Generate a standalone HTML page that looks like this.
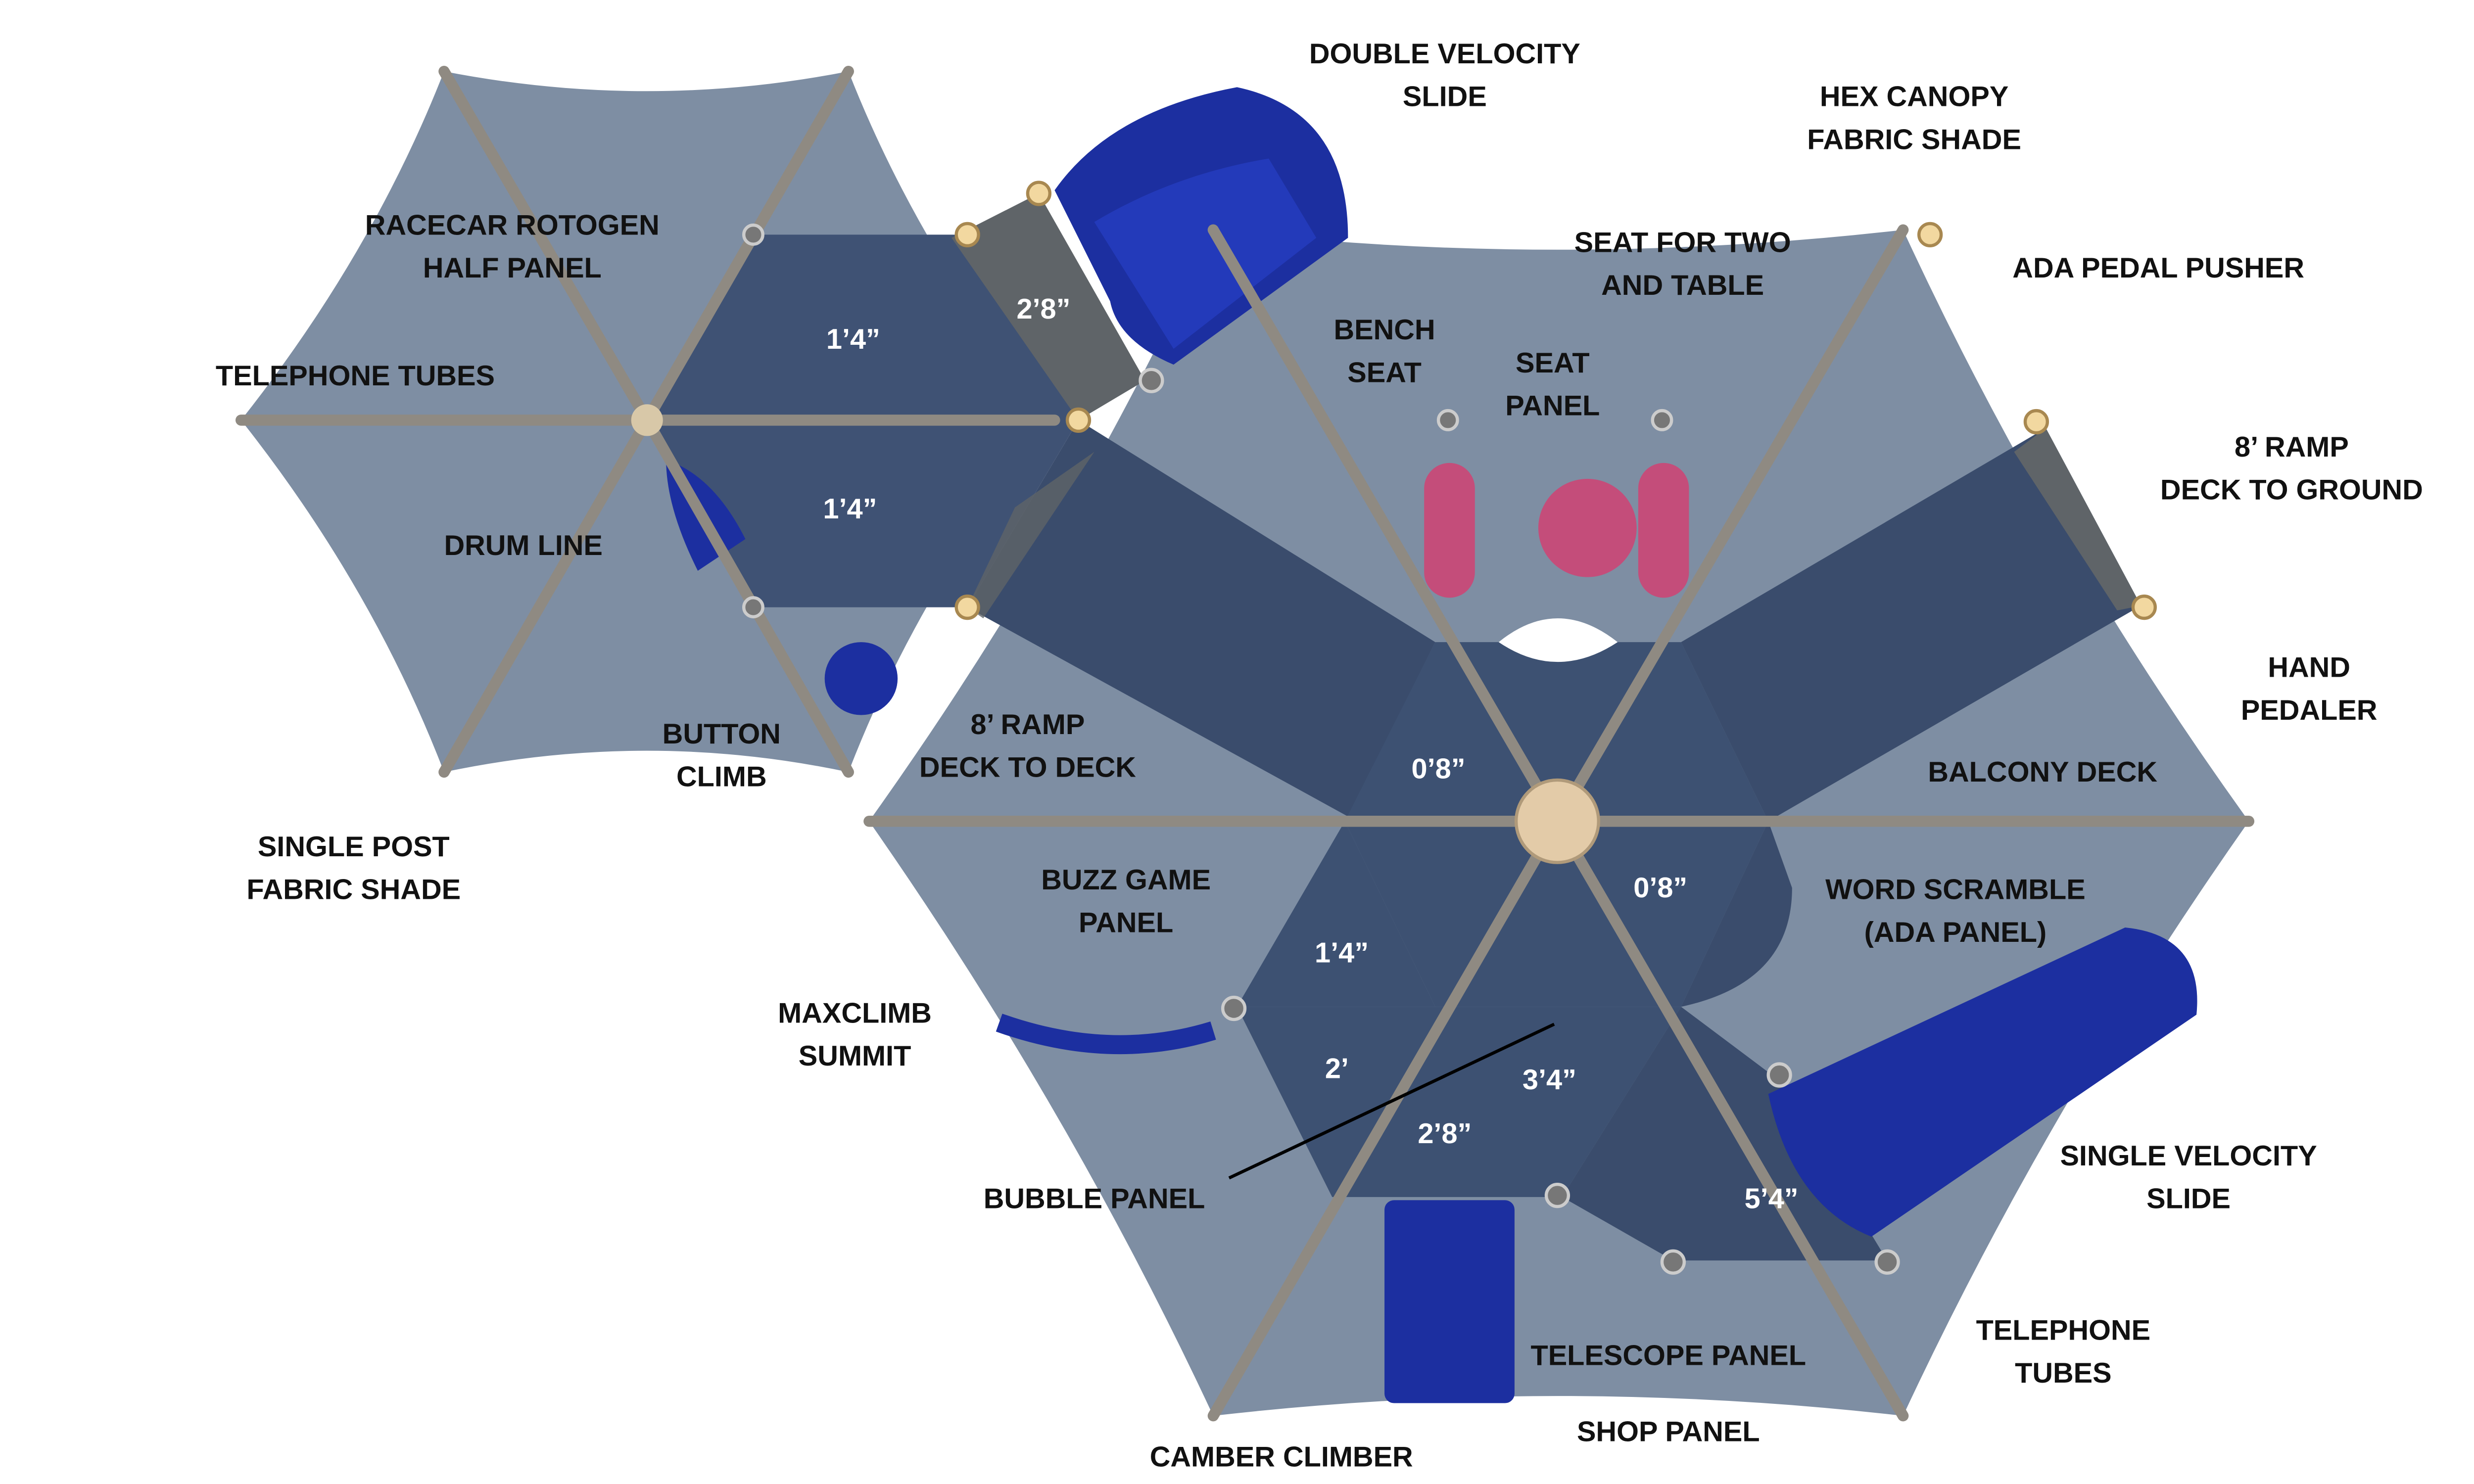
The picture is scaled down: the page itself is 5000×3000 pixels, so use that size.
<!DOCTYPE html>
<html><head><meta charset="utf-8"><style>
html,body{margin:0;padding:0;background:#fff;}
svg{display:block;width:5000px;height:3000px;}
text{font-family:"Liberation Sans",Arial,sans-serif;font-weight:bold;}
.l{fill:#111;font-size:18px;text-anchor:middle;}
.d{fill:#fff;font-size:18px;text-anchor:middle;}
</style></head><body>
<svg viewBox="0 0 1560 936" xmlns="http://www.w3.org/2000/svg">
<rect width="1560" height="936" fill="#fff"/>
<path d="M280,45 Q408,70 535,45 Q580,160 665,265 Q580,370 535,487 Q408,460 280,487 Q235,370 152,265 Q235,160 280,45Z" fill="#7e8ea3"/>
<path d="M765,145 Q982,170 1200,145 Q1290,340 1418,518 Q1290,700 1200,893 Q982,868 765,893 Q675,700 548,518 Q675,340 765,145Z" fill="#7e8ea3"/>
<path d="M475,148 L610,148 L680,265 L610,383 L475,383 L408,265Z" fill="#3f5274"/>
<path d="M600,150 L655,122 L722,240 L680,265Z" fill="#5f6468"/>
<path d="M665,120 Q700,70 780,55 Q850,70 850,150 L740,230 Q705,215 700,190Z" fill="#1c2fa0"/>
<path d="M690,140 Q740,110 800,100 L830,150 L740,220Z" fill="#233aba"/>
<path d="M680,265 L610,383 L850,515 L905,405Z" fill="#3a4c6c"/>
<path d="M640,320 L610,383 L620,390 L690,285Z" fill="#5f6468" opacity=".8"/>
<path d="M905,405 L1060,405 L1115,518 L1060,635 L905,635 L848,518Z" fill="#3d5172"/>
<path d="M1060,405 L1115,518 L1350,382 L1290,270Z" fill="#3a4c6c"/>
<path d="M1270,285 L1290,270 L1350,382 L1335,385Z" fill="#5f6468"/>
<path d="M905,635 L1060,635 L985,755 L840,755 L780,635Z" fill="#3d5172"/>
<path d="M848,518 L905,635 L780,635Z" fill="#3d5172"/>
<path d="M1060,635 L1120,680 L1190,795 L1055,795 L985,755Z" fill="#3a4c6c"/>
<path d="M1115,518 L1130,560 Q1130,620 1060,635Z" fill="#3a4c6c"/>
<path d="M1115,690 L1340,585 Q1390,590 1385,640 L1180,780 Q1130,760 1115,690Z" fill="#1c2fa0"/>
<rect x="873" y="757" width="82" height="128" rx="6" fill="#1c2fa0"/>
<path d="M630,645 Q700,670 765,650" stroke="#1c2fa0" stroke-width="12" fill="none"/>
<rect x="898" y="292" width="32" height="85" rx="16" fill="#c44d7a"/>
<rect x="1033" y="292" width="32" height="85" rx="16" fill="#c44d7a"/>
<circle cx="1001" cy="333" r="31" fill="#c44d7a"/>
<path d="M945,405 Q982,375 1020,405 Q982,430 945,405Z" fill="#fff"/>
<circle cx="543" cy="428" r="23" fill="#1c2fa0"/>
<path d="M420,290 Q450,300 470,340 L440,360 Q420,320 420,290Z" fill="#1c2fa0"/>
<g stroke="#8f8a82" stroke-width="7" stroke-linecap="round">
<line x1="408" y1="265" x2="280" y2="45"/><line x1="408" y1="265" x2="535" y2="45"/>
<line x1="408" y1="265" x2="665" y2="265"/><line x1="408" y1="265" x2="535" y2="487"/>
<line x1="408" y1="265" x2="280" y2="487"/><line x1="408" y1="265" x2="152" y2="265"/>
<line x1="982" y1="518" x2="765" y2="145"/><line x1="982" y1="518" x2="1200" y2="145"/>
<line x1="982" y1="518" x2="1418" y2="518"/><line x1="982" y1="518" x2="1200" y2="893"/>
<line x1="982" y1="518" x2="765" y2="893"/><line x1="982" y1="518" x2="548" y2="518"/>
</g>
<circle cx="408" cy="265" r="10" fill="#d8c8a8"/>
<circle cx="982" cy="518" r="26" fill="#e3cba8" stroke="#b09a7a" stroke-width="2"/>
<g fill="#f2d8a0" stroke="#a88850" stroke-width="2">
<circle cx="610" cy="148" r="7"/><circle cx="655" cy="122" r="7"/><circle cx="680" cy="265" r="7"/>
<circle cx="610" cy="383" r="7"/><circle cx="1217" cy="148" r="7"/><circle cx="1284" cy="266" r="7"/><circle cx="1352" cy="383" r="7"/>
</g>
<g fill="#777" stroke="#ccc" stroke-width="2">
<circle cx="913" cy="265" r="6"/><circle cx="1048" cy="265" r="6"/><circle cx="726" cy="240" r="7"/>
<circle cx="778" cy="636" r="7"/><circle cx="1122" cy="678" r="7"/><circle cx="982" cy="754" r="7"/>
<circle cx="1055" cy="796" r="7"/><circle cx="1190" cy="796" r="7"/><circle cx="475" cy="148" r="6"/><circle cx="475" cy="383" r="6"/>
</g>
<line x1="775" y1="743" x2="980" y2="646" stroke="#000" stroke-width="2"/>
<g transform="translate(-5,0)">
<text class="d" x="543" y="220">1’4”</text><text class="d" x="541" y="327">1’4”</text>
<text class="d" x="663" y="201">2’8”</text><text class="d" x="912" y="491">0’8”</text>
<text class="d" x="1052" y="566">0’8”</text><text class="d" x="851" y="607">1’4”</text>
<text class="d" x="848" y="680">2’</text><text class="d" x="982" y="687">3’4”</text>
<text class="d" x="916" y="721">2’8”</text><text class="d" x="1122" y="762">5’4”</text>
<text class="l" x="916" y="40">DOUBLE VELOCITY</text><text class="l" x="916" y="67">SLIDE</text>
<text class="l" x="1212" y="67">HEX CANOPY</text><text class="l" x="1212" y="94">FABRIC SHADE</text>
<text class="l" x="328" y="148">RACECAR ROTOGEN</text><text class="l" x="328" y="175">HALF PANEL</text>
<text class="l" x="1066" y="159">SEAT FOR TWO</text><text class="l" x="1066" y="186">AND TABLE</text>
<text class="l" x="1366" y="175">ADA PEDAL PUSHER</text>
<text class="l" x="878" y="214">BENCH</text><text class="l" x="878" y="241">SEAT</text>
<text class="l" x="984" y="235">SEAT</text><text class="l" x="984" y="262">PANEL</text>
<text class="l" x="229" y="243">TELEPHONE TUBES</text>
<text class="l" x="1450" y="288">8’ RAMP</text><text class="l" x="1450" y="315">DECK TO GROUND</text>
<text class="l" x="335" y="350">DRUM LINE</text>
<text class="l" x="1461" y="427">HAND</text><text class="l" x="1461" y="454">PEDALER</text>
<text class="l" x="460" y="469">BUTTON</text><text class="l" x="460" y="496">CLIMB</text>
<text class="l" x="653" y="463">8’ RAMP</text><text class="l" x="653" y="490">DECK TO DECK</text>
<text class="l" x="1293" y="493">BALCONY DECK</text>
<text class="l" x="228" y="540">SINGLE POST</text><text class="l" x="228" y="567">FABRIC SHADE</text>
<text class="l" x="715" y="561">BUZZ GAME</text><text class="l" x="715" y="588">PANEL</text>
<text class="l" x="1238" y="567">WORD SCRAMBLE</text><text class="l" x="1238" y="594">(ADA PANEL)</text>
<text class="l" x="544" y="645">MAXCLIMB</text><text class="l" x="544" y="672">SUMMIT</text>
<text class="l" x="1385" y="735">SINGLE VELOCITY</text><text class="l" x="1385" y="762">SLIDE</text>
<text class="l" x="695" y="762">BUBBLE PANEL</text>
<text class="l" x="1306" y="845">TELEPHONE</text><text class="l" x="1306" y="872">TUBES</text>
<text class="l" x="1057" y="861">TELESCOPE PANEL</text>
<text class="l" x="1057" y="909">SHOP PANEL</text>
<text class="l" x="813" y="925">CAMBER CLIMBER</text>
</g>
</svg>
</body></html>
